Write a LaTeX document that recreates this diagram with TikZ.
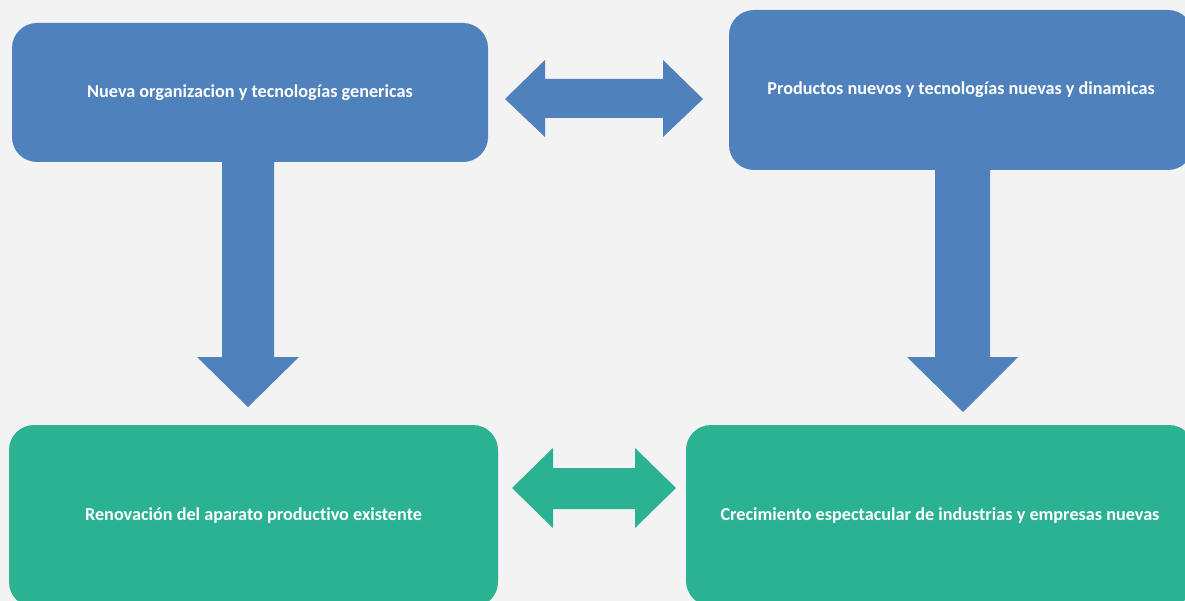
\documentclass[tikz,border=0pt]{standalone}
\usepackage{fontspec}
\setmainfont{Carlito}[Ligatures=NoCommon]
\definecolor{bg}{HTML}{F3F3F3}
\definecolor{blu}{HTML}{4F81BD}
\definecolor{grn}{HTML}{2AB292}
\tikzset{
  box/.style={rounded corners=25pt, inner sep=0pt, text=white, font=\bfseries\fontsize{18.2pt}{21pt}\selectfont, align=center},
  blubox/.style={box, fill=blu},
  grnbox/.style={box, fill=grn}
}
\begin{document}
\begin{tikzpicture}[x=1pt,y=-1pt]
\useasboundingbox (0,0) rectangle (1185,601);
\clip (0,0) rectangle (1185,601);
\fill[bg] (0,0) rectangle (1185,601);
% boxes
\node[blubox, minimum width=476pt, minimum height=139pt] (a) at (250,92.5) {Nueva organizacion y tecnologías genericas};
\node[blubox, minimum width=464pt, minimum height=160pt] (b) at (961,90) {Productos nuevos y tecnologías nuevas y dinamicas};
\node[grnbox, minimum width=489pt, minimum height=182pt] (c) at (253.5,516) {Renovación del aparato productivo existente};
\node[grnbox, minimum width=508pt, minimum height=181pt] (d) at (940,515.5) {Crecimiento espectacular de industrias y empresas nuevas};
% top double arrow
\fill[blu] (505,99) -- (545,60) -- (545,79) -- (663,79) -- (663,60) -- (703,99) -- (663,137) -- (663,118) -- (545,118) -- (545,137) -- cycle;
% bottom double arrow
\fill[grn] (512,488) -- (553,448) -- (553,468) -- (635,468) -- (635,448) -- (676,488) -- (635,528) -- (635,509) -- (553,509) -- (553,528) -- cycle;
% left down arrow
\fill[blu] (222,161) -- (274,161) -- (274,357) -- (299,357) -- (248,407) -- (197,357) -- (222,357) -- cycle;
% right down arrow
\fill[blu] (935,169) -- (990,169) -- (990,357) -- (1018,357) -- (963,412) -- (907,357) -- (935,357) -- cycle;
\end{tikzpicture}
\end{document}
